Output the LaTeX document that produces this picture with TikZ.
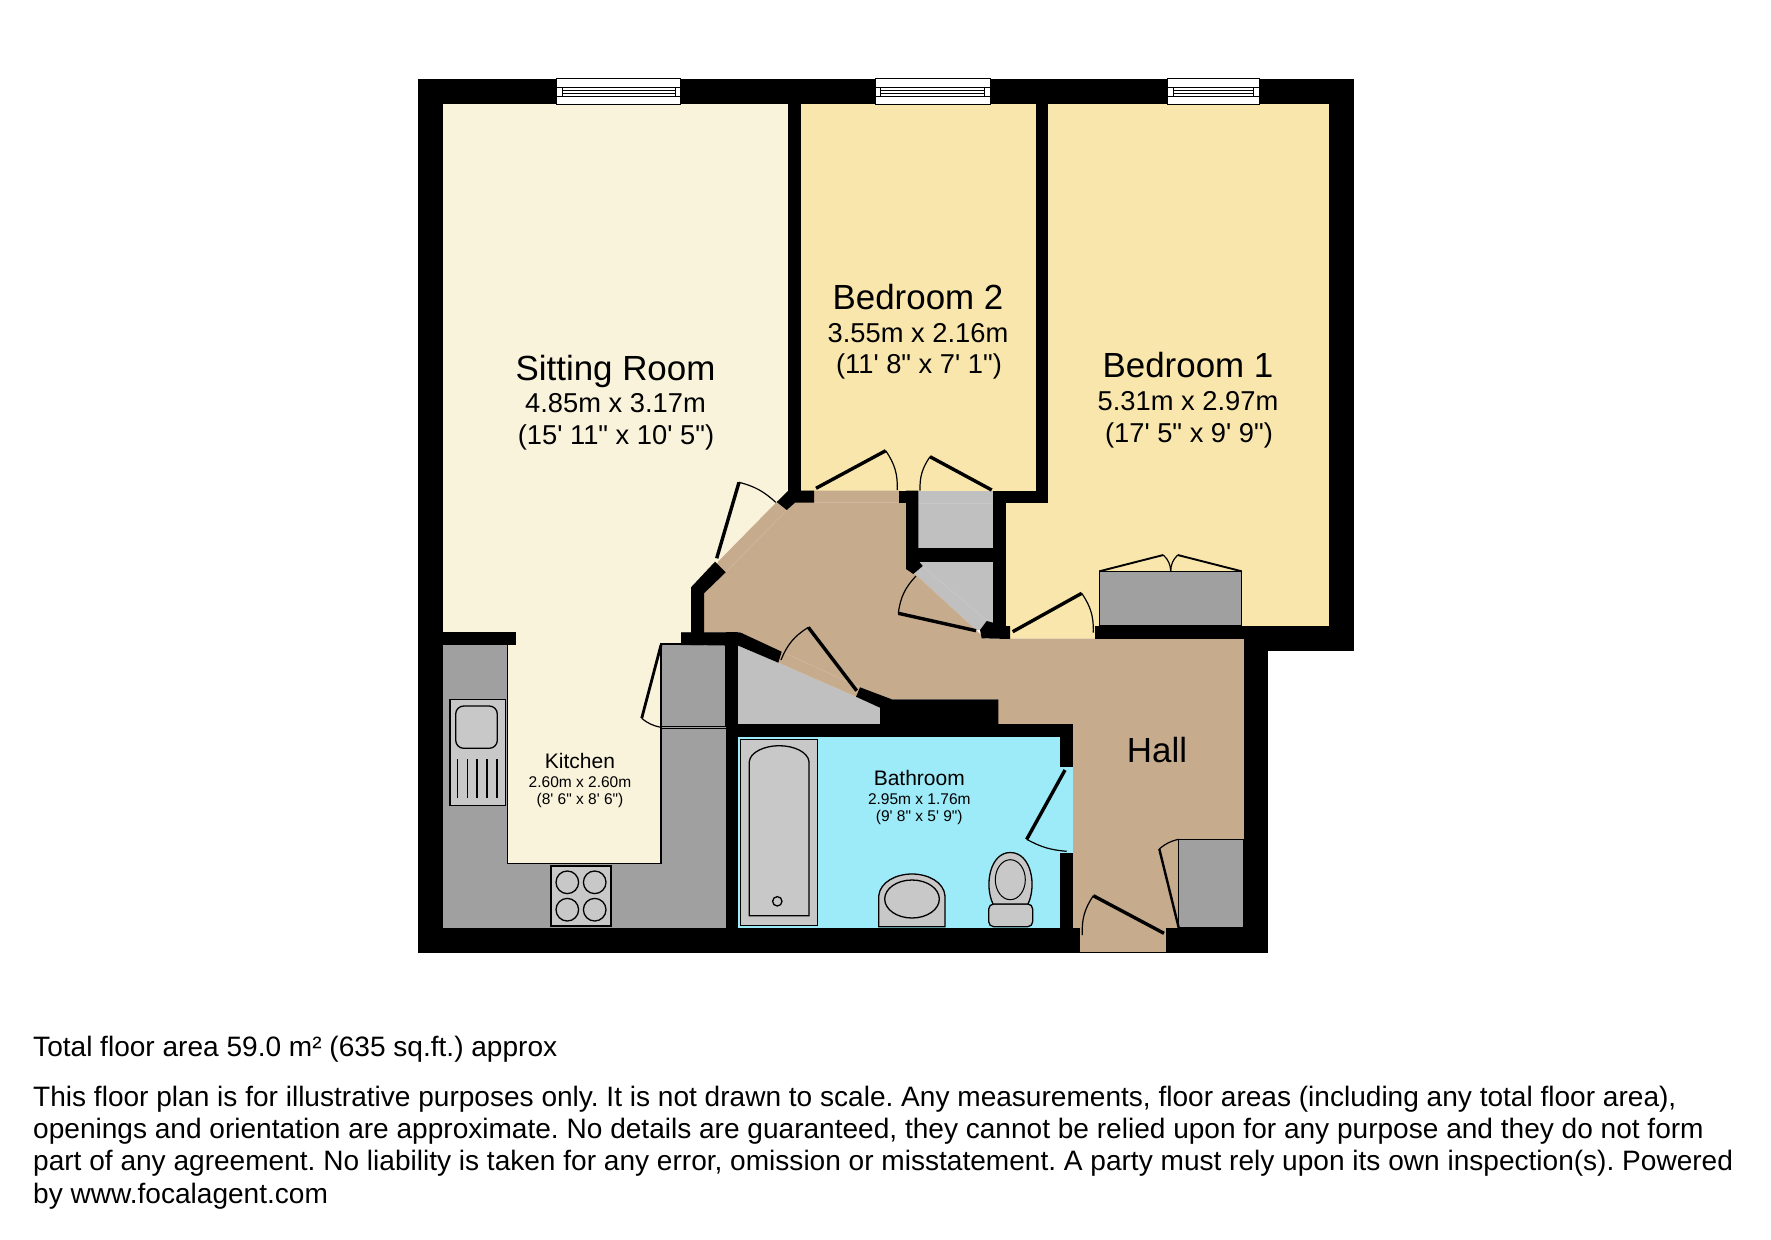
\documentclass[tikz,border=0pt]{standalone}
\usepackage{fontspec}
\newfontfamily\planfont{Liberation Sans}
\definecolor{sittingfloor}{HTML}{F9F3DC}
\definecolor{bedfloor}{HTML}{F8E6AC}
\definecolor{hallfloor}{HTML}{C6AB8C}
\definecolor{sillline}{HTML}{CFB89D}
\definecolor{bathfloor}{HTML}{9DEBF8}
\definecolor{unitgrey}{HTML}{A0A0A0}
\definecolor{storegrey}{HTML}{C0C0C0}
\definecolor{fitgrey}{HTML}{C8C8C8}
\tikzset{
  title/.style={anchor=base, inner sep=0pt, font=\planfont\fontsize{34.9}{34.9}\selectfont},
  dims/.style={anchor=base, inner sep=0pt, font=\planfont\fontsize{27.3}{27.3}\selectfont},
  smalltitle/.style={anchor=base, inner sep=0pt, font=\planfont\fontsize{21}{21}\selectfont},
  smalldims/.style={anchor=base, inner sep=0pt, font=\planfont\fontsize{15.5}{15.5}\selectfont},
  note/.style={anchor=base west, inner sep=0pt, font=\planfont\frenchspacing\fontsize{28.06}{28}\selectfont},
  wall/.style={fill=black, draw=none},
  fitting/.style={fill=fitgrey, draw=black, line width=1.3pt},
  unit/.style={fill=unitgrey, draw=black, line width=1.2pt},
  swing/.style={line width=1.2pt}
}
\begin{document}
\begin{tikzpicture}[x=1pt, y=-1pt]
\useasboundingbox[fill=white] (0,0) rectangle (1771,1239);

\fill[unitgrey] (443,632) rectangle (726,928);
\fill[sittingfloor] (443,103) -- (789,103) -- (789,500) -- (718,562) -- (704,632) -- (681,632) -- (681,644)
  -- (661,644) -- (661,863.3) -- (507.7,863.3) -- (507.7,640) -- (443,640) -- cycle;
\fill[bedfloor] (800,103) rectangle (1036,491);
\fill[bedfloor] (1048,103) -- (1330,103) -- (1330,627) -- (1095,627) -- (1095,638.5) -- (1005,638.5) -- (1005,500) -- (1048,500) -- cycle;
\fill[storegrey] (918,490.7) rectangle (993,549);
\fill[storegrey] (918,561) -- (993,561) -- (993,630) -- (976,630) -- (915,574) -- cycle;
\fill[storegrey] (738,645.7) -- (778.3,662.7) -- (856,696.7) -- (880,706) -- (880,725) -- (738,725) -- cycle;
\fill[hallfloor] (718,561.7) -- (776.7,502) -- (800,490.7) -- (900,490.7) -- (906,502) -- (906,563) -- (915,574) -- (976,630) -- (985,638.5)
  -- (1244,638.5) -- (1244,928) -- (1166,928) -- (1166,952) -- (1080,952) -- (1072,928) -- (1072,724)
  -- (998,724) -- (998,699) -- (891,699) -- (856,696.7) -- (778.3,662.7) -- (740,632) -- (704,632) -- (704,593) -- cycle;
\fill[bathfloor] (738,737) rectangle (1072.5,928);

% door sills
\draw[sillline, line width=0.7pt] (786.7,510) -- (725.7,572.3);
\draw[sillline, line width=0.7pt] (814,502.7) -- (899,502.7);
\draw[sillline, line width=0.7pt] (781.7,651.7) -- (860,687.3);
\draw[fitgrey, line width=0.7pt] (918,503) -- (993,503);
\draw[fitgrey, line width=0.7pt] (922.7,566) -- (986.7,621);

% kitchen units
\draw[line width=1.2pt] (507.7,645) -- (507.7,863.3) -- (661,863.3) -- (661,644);
\draw[unit] (661,644) rectangle (726,726.3);
\draw[line width=1pt] (661,728.3) -- (726,728.3);
\draw[fitting] (450,699.3) rectangle (505.3,805.3);
\draw[fitting, rounded corners=8pt] (455.7,706) rectangle (497.3,748.3);
\foreach \lx in {457.3,467.3,477,487,497}
  \draw[line width=1.2pt] (\lx,759) -- (\lx,797.7);
\draw[fitting] (551,866) rectangle (611,926);
\foreach \cx in {567.3,594.7}
  \foreach \cy in {882.3,909.7}
    \draw[fitting] (\cx,\cy) circle (11.3);

% wardrobe and cupboard
\draw[unit] (1099.3,571.3) rectangle (1241.7,626);
\draw[unit] (1178.7,839.3) rectangle (1243.7,928);

% bathroom fittings
\draw[fitting, line width=1pt] (740,739.3) rectangle (817.7,925.7);
\draw[fitting] (749.3,915.7) -- (749.3,761.7) .. controls (750,752) and (765,745.7) .. (779,745.7)
  .. controls (794,745.7) and (808,752) .. (809,761.7) -- (809,915.7) -- cycle;
\draw[fitting] (777.3,901.3) circle (4.7);
\draw[fitting] (878.7,926.7) -- (878.7,896) .. controls (880,882) and (896,874) .. (912,874)
  .. controls (928,874) and (944,882) .. (945,896) -- (945,926.7) -- cycle;
\draw[fitting] (912,899) ellipse (27.3 and 19);
\draw[fitting, rounded corners=5pt] (988.7,904) rectangle (1032.7,926.7);
\draw[fitting] (993,904) .. controls (984,885) and (990,852.5) .. (1010.3,852.5)
  .. controls (1031,852.5) and (1037,885) .. (1028,904) -- cycle;
\draw[fitting, line width=1pt] (1010.3,879.7) ellipse (15 and 20);

% walls
\path[wall] (418,78.5) rectangle (1353.7,103.7);
\path[wall] (418,78.5) rectangle (443,952.7);
\path[wall] (1329.3,78.5) rectangle (1353.7,650.7);
\path[wall] (1095,626) rectangle (1353.7,638.7);
\path[wall] (1243.7,626) rectangle (1353.7,650.7);
\path[wall] (1243.7,626) rectangle (1268.3,952.7);
\path[wall] (418,927.7) rectangle (1080.3,952.7);
\path[wall] (1166,927.7) rectangle (1268.3,952.7);
\path[wall] (443,632.3) rectangle (516,645);
\path[wall] (725.7,632.3) rectangle (738.3,928);
\path[wall] (738,724) rectangle (1072.7,737.3);
\path[wall] (1060,724) rectangle (1072.7,767.3);
\path[wall] (1060,853.3) rectangle (1072.7,928);
\path[wall] (788.3,90) rectangle (800.7,495);
\path[wall] (1035.7,90) rectangle (1048.3,503.3);
\path[wall] (992.7,490.7) rectangle (1048.3,503.3);
\path[wall] (992.7,490.7) rectangle (1005.7,630);
\path[wall] (918,548.3) rectangle (993,561.7);
\path[wall] (899.3,490.7) rectangle (918.3,503.3);
\path[wall] (906,490.7) -- (918.3,490.7) -- (918.3,560.7) -- (922.7,566) -- (913.3,574) -- (906,569) -- cycle;
\path[wall] (776.7,502) -- (788.3,490.7) -- (814,490.7) -- (814,502.7) -- (795,502.7) -- (786.7,510) -- cycle;
\path[wall] (715,561.7) -- (725.7,572.3) -- (704,593.3) -- (704,645) -- (681,645) -- (681,632.3) -- (691,632.3) -- (691,587.3) -- cycle;
\path[wall] (691,632.3) -- (740,632.3) -- (781.7,651.7) -- (778.3,662.7) -- (738.3,645.7) -- (691,645) -- cycle;
\path[wall] (860,687.3) -- (891.7,699.3) -- (998.3,699.3) -- (998.3,724) -- (880,724) -- (880,707.7) -- (856,696.7) -- cycle;
\path[wall] (986.7,621) -- (1005.7,626) -- (1010,626) -- (1010,639) -- (981.7,638.3) -- (980,630) -- cycle;

% entrance edge
\draw[line width=1pt] (1080.3,952) -- (1166,952);

% windows
\foreach \wa/\wb in {556.7/680.7,875/990.3,1167.7/1259.3}{
  \draw[fill=white, line width=0.9pt] (\wa,78.5) rectangle (\wb,104.7);
  \draw[line width=0.7pt] (\wa,87.7) -- (\wb,87.7) (\wa,96) -- (\wb,96);
  \draw[line width=0.7pt] (\wa+5.5,87.7) -- (\wa+5.5,96) (\wb-5.5,87.7) -- (\wb-5.5,96);
  \draw[line width=0.7pt] (\wa+5.5,90.7) -- (\wb-5.5,90.7) (\wa+5.5,93) -- (\wb-5.5,93);
}

% doors
\foreach \hx/\hy/\tx/\ty/\ex/\ey/\bnd/\lw in {
  816/488.3/885.7/450.7/897.3/490/18/3.4,
  991.7/490/930/456.7/920/490.7/-18/3.4,
  716.7/558.3/739/482.3/775.7/502.3/14/3.4,
  976/630.7/898.3/613.3/916/576/18/3.4,
  1012.7/631.7/1081.7/593.3/1093.3/632.7/18/3.4,
  856.7/690.7/808.3/627.3/781/660/-18/3.4,
  661/645/641.7/718.3/661/727.3/-14/2.8,
  1065/770/1026.7/839.3/1066.7/851.3/-12/3.4,
  1178.7/927.7/1159.3/849/1178.7/839.3/14/2.4,
  1164/933.3/1093.3/895.7/1082.3/935/-18/3.4,
  1099.3/571.3/1163.3/555/1170.7/571.3/22/1.9,
  1241.7/571.3/1177.7/555/1170.7/571.3/-22/1.9}{
  \draw[line width=\lw pt] (\hx,\hy) -- (\tx,\ty);
  \draw[swing] (\tx,\ty) to[bend left=\bnd] (\ex,\ey);
}

% room labels
\node[title] (sitting) at (615.5,380.2) {Sitting Room};
\node[dims] (sittingm) at (615.5,412.6) {4.85m x 3.17m};
\node[dims] (sittingft) at (616,444.9) {(15' 11" x 10' 5")};
\node[title] (bedtwo) at (918,309.5) {Bedroom 2};
\node[dims] (bedtwom) at (918,342.2) {3.55m x 2.16m};
\node[dims] (bedtwoft) at (919,373.8) {(11' 8" x 7' 1")};
\node[title] (bedone) at (1188,377.6) {Bedroom 1};
\node[dims] (bedonem) at (1188,410.2) {5.31m x 2.97m};
\node[dims] (bedoneft) at (1189,442.6) {(17' 5" x 9' 9")};
\node[title] (hall) at (1157,762.6) {Hall};
\node[smalltitle] (kitchen) at (580,768.2) {Kitchen};
\node[smalldims] (kitchenm) at (580,787.2) {2.60m x 2.60m};
\node[smalldims] (kitchenft) at (580,804.5) {(8' 6" x 8' 6")};
\node[smalltitle] (bathroom) at (919.3,785.5) {Bathroom};
\node[smalldims] (bathroomm) at (919.3,804.5) {2.95m x 1.76m};
\node[smalldims] (bathroomft) at (919.3,821.5) {(9' 8" x 5' 9")};

% footer
\node[note] (area) at (33,1056.9) {Total floor area 59.0 m² (635 sq.ft.) approx};
\node[note] (lineone) at (33,1106.2) {This floor plan is for illustrative purposes only. It is not drawn to scale. Any measurements, floor areas (including any total floor area),};
\node[note] (linetwo) at (33,1138.5) {openings and orientation are approximate. No details are guaranteed, they cannot be relied upon for any purpose and they do not form};
\node[note] (linethree) at (33,1170.9) {part of any agreement. No liability is taken for any error, omission or misstatement. A party must rely upon its own inspection(s). Powered};
\node[note] (linefour) at (33,1203.2) {by www.focalagent.com};
\end{tikzpicture}
\end{document}
